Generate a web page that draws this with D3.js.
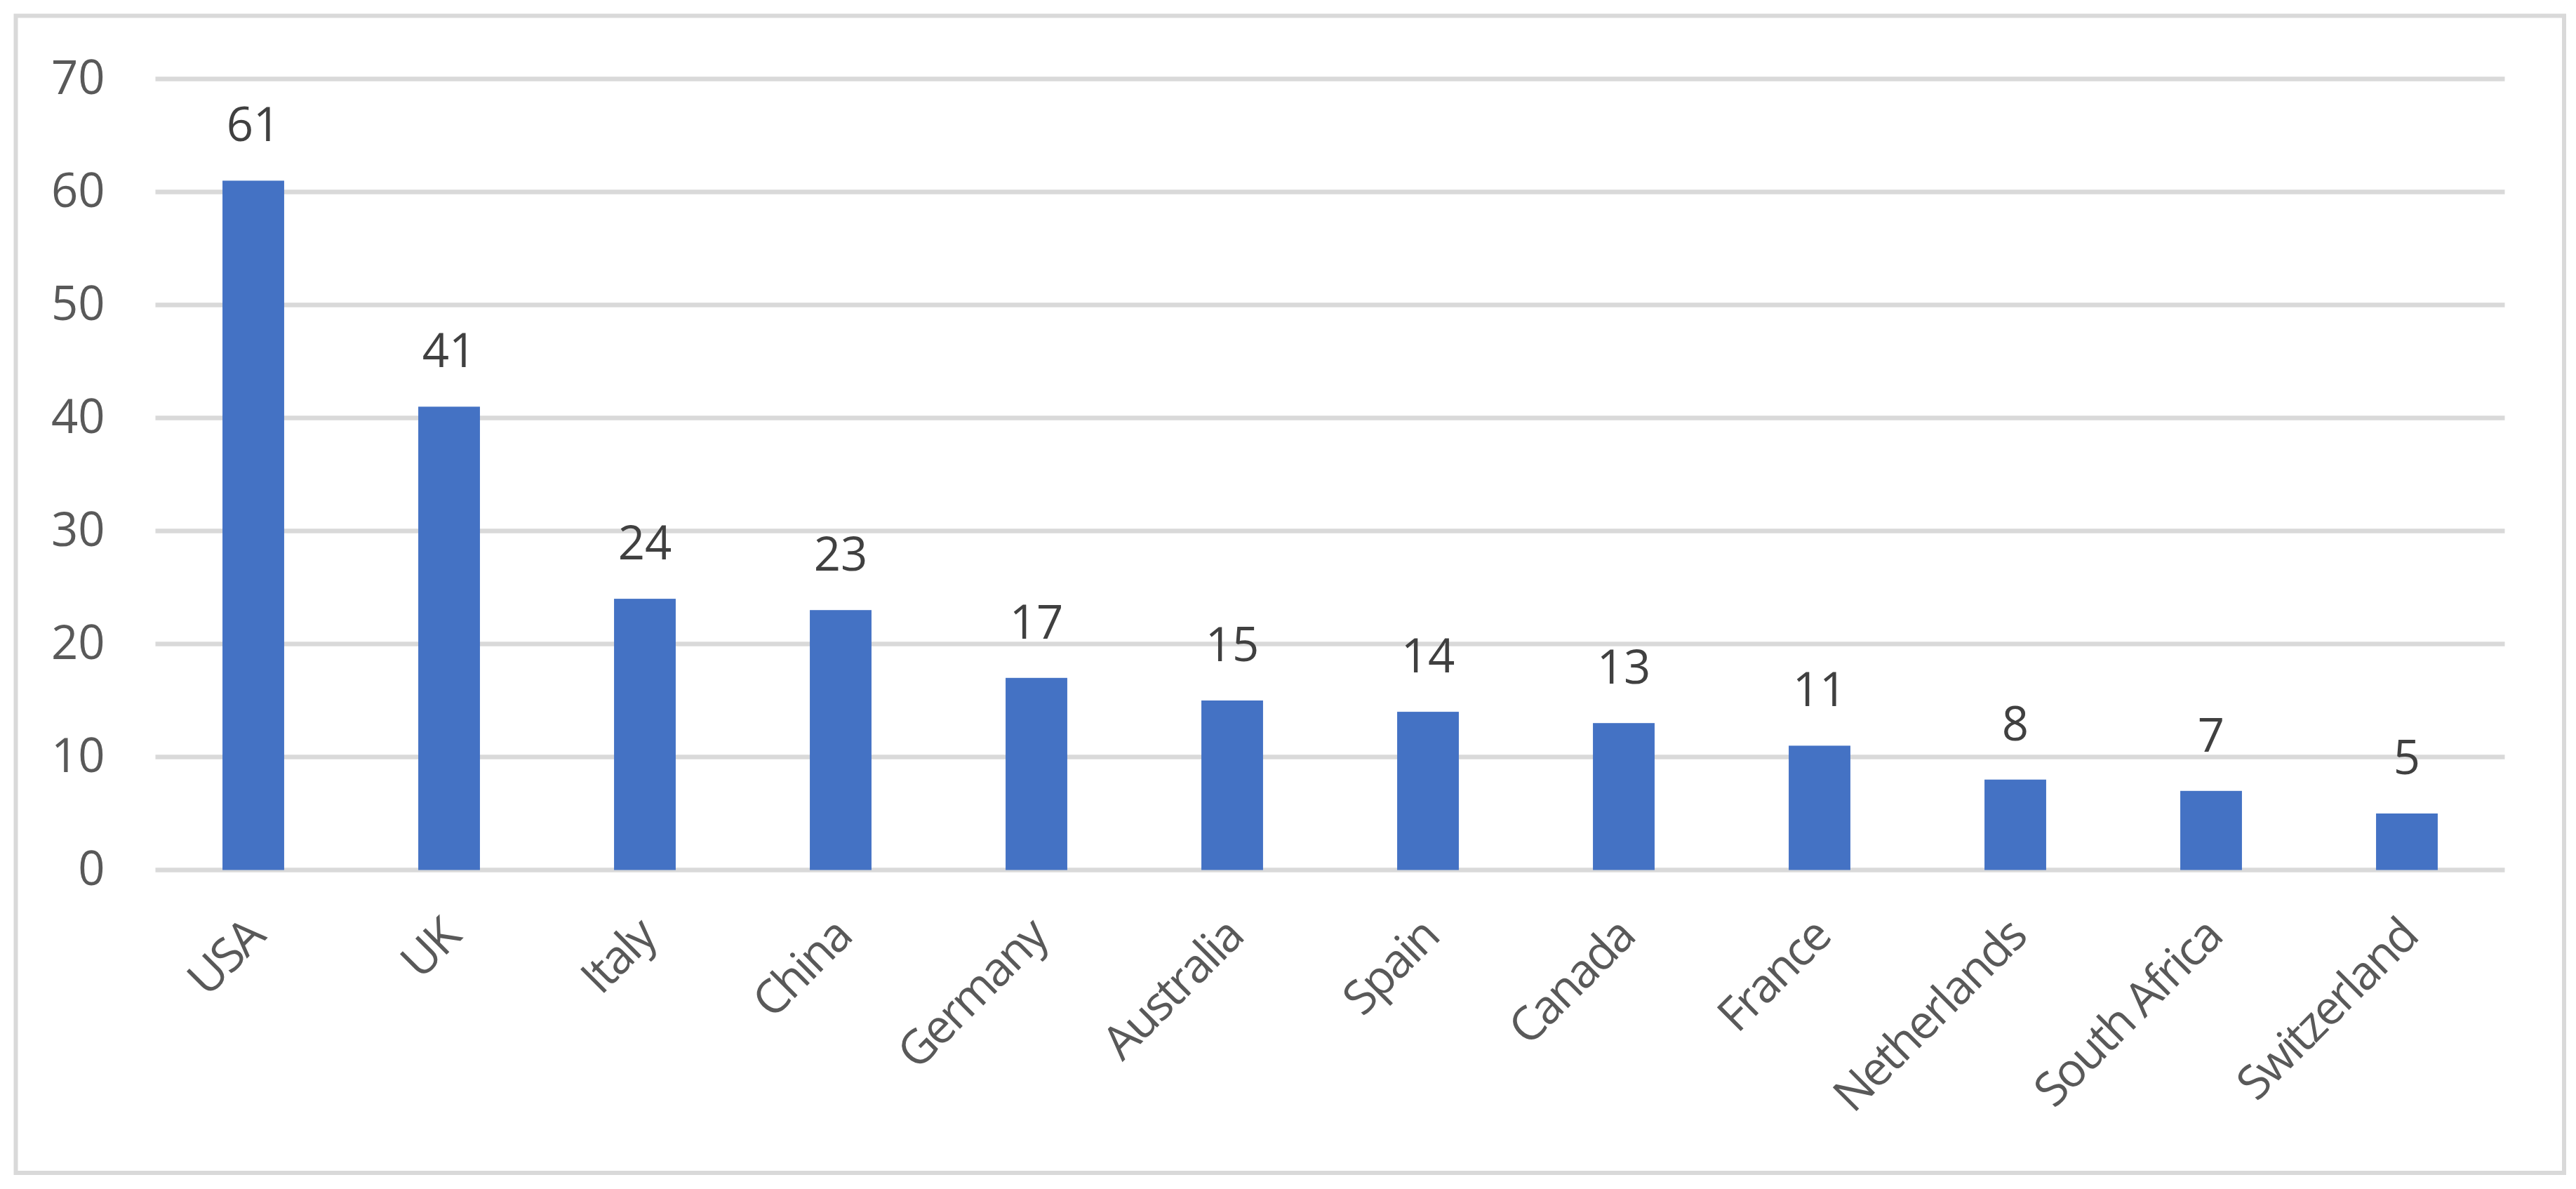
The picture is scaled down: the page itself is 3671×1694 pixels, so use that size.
<!DOCTYPE html>
<html>
<head>
<meta charset="utf-8">
<script src="https://cdn.jsdelivr.net/npm/d3@7"></script>
<style>
  html, body { margin: 0; padding: 0; background: #fff; }
  svg { display: block; }
</style>
</head>
<body>
<div id="chart"></div>
<script>
// Chart data
var countries = ["USA", "UK", "Italy", "China", "Germany", "Australia", "Spain",
  "Canada", "France", "Netherlands", "South Africa", "Switzerland"];
var counts = [61, 41, 24, 23, 17, 15, 14, 13, 11, 8, 7, 5];
var yTicks = [0, 10, 20, 30, 40, 50, 60, 70];

var width = 3671, height = 1694;
var plot = { left: 221.5, right: 3569.5, top: 112.5, bottom: 1239.5 };
var font = "'Open Sans', 'Noto Sans', sans-serif";

var svg = d3.select("#chart")
  .append("svg")
  .attr("width", width)
  .attr("height", height);

// outer frame
svg.append("rect")
  .attr("x", 22.5)
  .attr("y", 22.5)
  .attr("width", 3631.5)
  .attr("height", 1648.5)
  .attr("fill", "#fff")
  .attr("stroke", "#d9d9d9")
  .attr("stroke-width", 6);

var x = d3.scaleBand()
  .domain(countries)
  .range([plot.left, plot.right])
  .paddingInner(0.685)
  .paddingOuter(0.3425);

var y = d3.scaleLinear()
  .domain([0, 70])
  .range([plot.bottom, plot.top]);

// gridlines
svg.append("g")
  .selectAll("line")
  .data(yTicks)
  .enter()
  .append("line")
  .attr("x1", plot.left)
  .attr("x2", plot.right)
  .attr("y1", function(d) { return y(d); })
  .attr("y2", function(d) { return y(d); })
  .attr("stroke", "#d9d9d9")
  .attr("stroke-width", 6.5);

// y axis labels
var yAxis = d3.axisLeft(y).tickValues(yTicks).tickSize(0).tickPadding(72);
svg.append("g")
  .attr("transform", "translate(" + plot.left + ",0)")
  .call(yAxis)
  .call(function(g) { g.select(".domain").remove(); })
  .selectAll("text")
  .attr("font-family", font)
  .attr("font-size", 67)
  .attr("fill", "#595959");

// bars
var data = countries.map(function(c, i) { return { name: c, value: counts[i] }; });

svg.append("g")
  .selectAll("rect")
  .data(data)
  .enter()
  .append("rect")
  .attr("x", function(d) { return x(d.name); })
  .attr("y", function(d) { return y(d.value); })
  .attr("width", x.bandwidth())
  .attr("height", function(d) { return y(0) - y(d.value); })
  .attr("fill", "#4472c4");

// value labels above bars
svg.append("g")
  .selectAll("text")
  .data(data)
  .enter()
  .append("text")
  .attr("x", function(d) { return x(d.name) + x.bandwidth() / 2; })
  .attr("y", function(d) { return y(d.value) - 56; })
  .attr("text-anchor", "middle")
  .attr("font-family", font)
  .attr("font-size", 67)
  .attr("fill", "#404040")
  .text(function(d) { return d.value; });

// x axis labels, rotated (tighter spacing to get closer to the narrower original font)
var xAxis = d3.axisBottom(x).tickSize(0).tickPadding(0);
svg.append("g")
  .attr("transform", "translate(0," + plot.bottom + ")")
  .call(xAxis)
  .call(function(g) { g.select(".domain").remove(); })
  .selectAll("text")
  .attr("font-family", font)
  .attr("font-size", 67)
  .attr("letter-spacing", -3)
  .attr("fill", "#595959")
  .attr("text-anchor", "end")
  .attr("x", 3)
  .attr("y", 0)
  .attr("dy", "0.35em")
  .attr("transform", "translate(0,84) rotate(-45)");
</script>
</body>
</html>
